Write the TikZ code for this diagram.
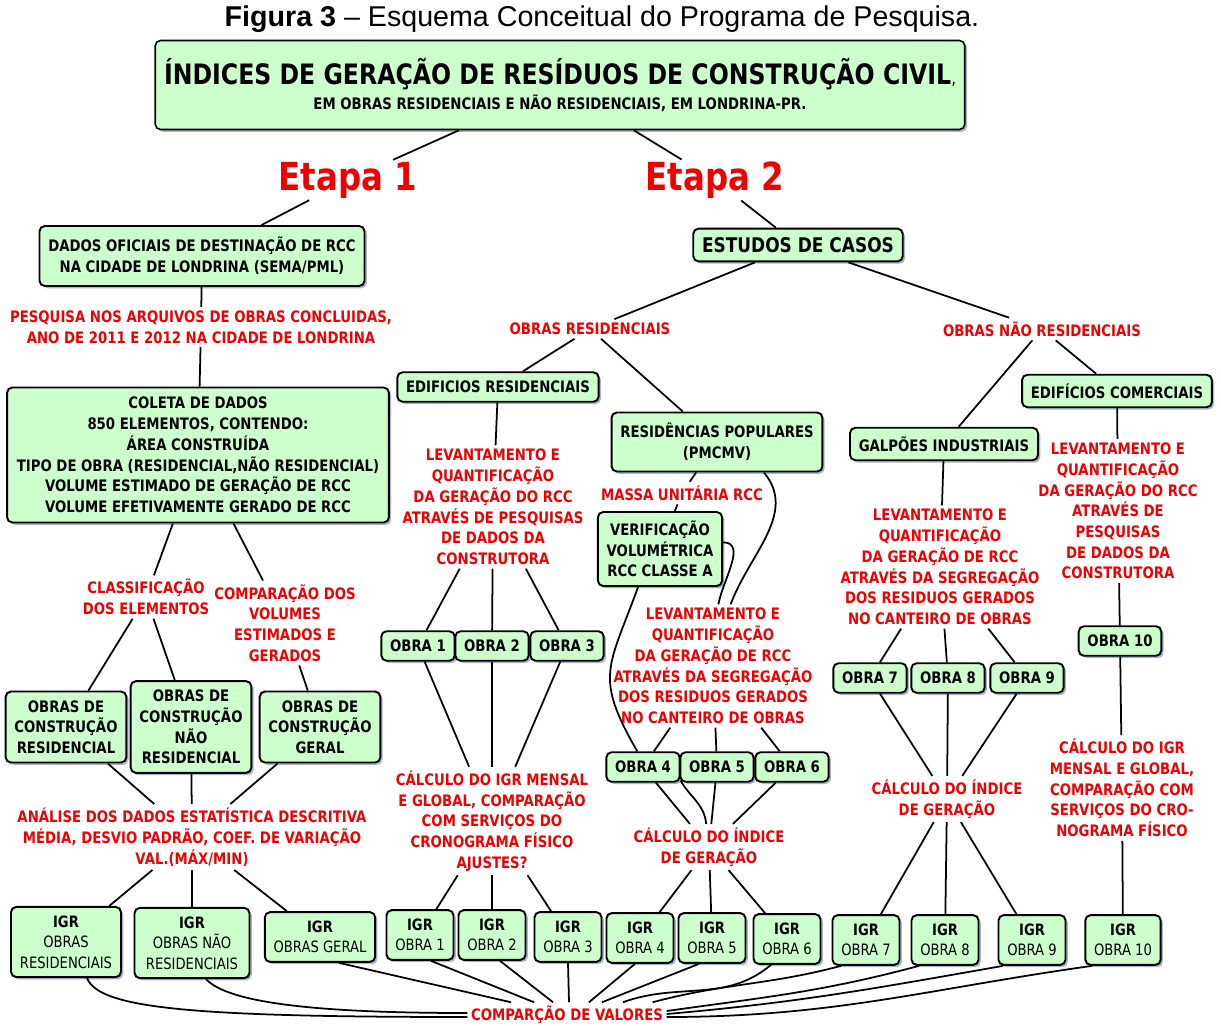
\documentclass[tikz,border=0pt]{standalone}
\usepackage{fontspec}
\setmainfont{Liberation Sans}
\newfontfamily\tahoma{DejaVu Sans}[FakeStretch=0.84]
\usetikzlibrary{shadows,calc}
\definecolor{verdecaixa}{RGB}{204,255,204}
\definecolor{vermelho}{RGB}{240,0,0}
\definecolor{sombra}{RGB}{110,130,190}

\begin{document}
\begin{tikzpicture}[x=0.02cm,y=-0.02cm,
  caixa/.style={draw, line width=1.1pt, rounded corners=3pt, fill=verdecaixa,
    align=center, inner xsep=5pt, inner ysep=5pt,
    font=\tahoma\bfseries\fontsize{9}{11.8}\selectfont,
    drop shadow={shadow xshift=1.3pt, shadow yshift=-1.3pt, fill=sombra, opacity=0.6}},
  igr/.style={caixa, font=\tahoma\fontsize{8.9}{11.6}\selectfont},
  rotulo/.style={text=vermelho, align=center, inner sep=2pt,
    font=\tahoma\bfseries\fontsize{9}{11.8}\selectfont},
  etapa/.style={text=vermelho, inner sep=1pt,
    font=\tahoma\bfseries\fontsize{22}{24}\selectfont},
  liga/.style={line width=1pt}]
  \useasboundingbox (0,0) rectangle (1221,1025);

  \node[font=\fontsize{16.3}{19}\selectfont] (titulo) at (602,19) {\textbf{Figura 3} – Esquema Conceitual do Programa de Pesquisa.};
  \node[caixa, line width=0.9pt, minimum width=16.1cm, minimum height=1.78cm, font=\tahoma\bfseries\fontsize{9}{13.7}\selectfont] (indices) at (560,85)
    {{\fontsize{16}{20}\selectfont ÍNDICES DE GERAÇÃO DE RESÍDUOS DE CONSTRUÇÃO CIVIL{\mdseries\fontsize{10}{12}\selectfont,}}\\EM OBRAS RESIDENCIAIS E NÃO RESIDENCIAIS, EM LONDRINA-PR.};
  \node[etapa] (etapa1) at (348,180) {Etapa 1};
  \node[etapa] (etapa2) at (715,180) {Etapa 2};

  \node[caixa, minimum width=6.46cm, minimum height=1.2cm] (dados) at (202,256) {DADOS OFICIAIS DE DESTINAÇÃO DE RCC\\NA CIDADE DE LONDRINA (SEMA/PML)};
  \node[rotulo] (pesquisa) at (201,327) {PESQUISA NOS ARQUIVOS DE OBRAS CONCLUIDAS,\\ANO DE 2011 E 2012 NA CIDADE DE LONDRINA};
  \node[caixa, minimum width=7.64cm, minimum height=2.7cm] (coleta) at (198,455) {COLETA DE DADOS\\850 ELEMENTOS, CONTENDO:\\ÁREA CONSTRUÍDA\\TIPO DE OBRA (RESIDENCIAL,NÃO RESIDENCIAL)\\VOLUME ESTIMADO DE GERAÇÃO DE RCC\\VOLUME EFETIVAMENTE GERADO DE RCC};
  \node[rotulo] (classif) at (146,597) {CLASSIFICAÇÃO\\DOS ELEMENTOS};
  \node[rotulo] (compvol) at (285,623) {COMPARAÇÃO DOS\\VOLUMES\\ESTIMADOS E\\GERADOS};
  \node[caixa] (obrasres) at (66,727) {OBRAS DE\\CONSTRUÇÃO\\RESIDENCIAL};
  \node[caixa] (obrasnres) at (191,727) {OBRAS DE\\CONSTRUÇÃO\\NÃO\\RESIDENCIAL};
  \node[caixa] (obrasger) at (320,727) {OBRAS DE\\CONSTRUÇÃO\\GERAL};
  \node[rotulo] (analise) at (192,837) {ANÁLISE DOS DADOS ESTATÍSTICA DESCRITIVA\\MÉDIA, DESVIO PADRÃO, COEF. DE VARIAÇÃO\\VAL.(MÁX/MIN)};
  \node[igr, minimum width=2.2cm] (igrres) at (66,942) {\textbf{IGR}\\OBRAS\\RESIDENCIAIS};
  \node[igr, minimum width=2.3cm] (igrnres) at (192,943) {\textbf{IGR}\\OBRAS NÃO\\RESIDENCIAIS};
  \node[igr] (igrger) at (320,937) {\textbf{IGR}\\OBRAS GERAL};

  \node[caixa, font=\tahoma\bfseries\fontsize{11.5}{14}\selectfont] (estudos) at (798,245) {ESTUDOS DE CASOS};
  \node[rotulo] (resid) at (590,329) {OBRAS RESIDENCIAIS};
  \node[rotulo] (naoresid) at (1042,329) {OBRAS NÃO RESIDENCIAIS};
  \node[caixa] (edres) at (498,387) {EDIFICIOS RESIDENCIAIS};
  \node[caixa, minimum width=4.1cm, minimum height=1.18cm] (popular) at (717,442) {RESIDÊNCIAS POPULARES\\(PMCMV)};
  \node[rotulo] (levA) at (493,507) {LEVANTAMENTO E\\QUANTIFICAÇÃO\\DA GERAÇÃO DO RCC\\ATRAVÉS DE PESQUISAS\\DE DADOS DA\\CONSTRUTORA};
  \node[caixa] (obra1) at (418,646) {OBRA 1};
  \node[caixa] (obra2) at (492,646) {OBRA 2};
  \node[caixa] (obra3) at (567,646) {OBRA 3};
  \node[rotulo] (calcA) at (492,821) {CÁLCULO DO IGR MENSAL\\E GLOBAL, COMPARAÇÃO\\COM SERVIÇOS DO\\CRONOGRAMA FÍSICO\\AJUSTES?};
  \node[rotulo] (massa) at (682,493) {MASSA UNITÁRIA RCC};
  \node[caixa] (verif) at (660,549) {VERIFICAÇÃO\\VOLUMÉTRICA\\RCC CLASSE A};
  \node[rotulo] (levB) at (713,666) {LEVANTAMENTO E\\QUANTIFICAÇÃO\\DA GERAÇÃO DE RCC\\ATRAVÉS DA SEGREGAÇÃO\\DOS RESIDUOS GERADOS\\NO CANTEIRO DE OBRAS};
  \node[caixa] (obra4) at (643,767) {OBRA 4};
  \node[caixa] (obra5) at (717,767) {OBRA 5};
  \node[caixa] (obra6) at (792,767) {OBRA 6};
  \node[rotulo] (calcB) at (709,847) {CÁLCULO DO ÍNDICE\\DE GERAÇÃO};

  \node[caixa] (galpoes) at (944,444) {GALPÕES INDUSTRIAIS};
  \node[caixa] (edcom) at (1117,391) {EDIFÍCIOS COMERCIAIS};
  \node[rotulo] (levC) at (940,567) {LEVANTAMENTO E\\QUANTIFICAÇÃO\\DA GERAÇÃO DE RCC\\ATRAVÉS DA SEGREGAÇÃO\\DOS RESIDUOS GERADOS\\NO CANTEIRO DE OBRAS};
  \node[caixa] (obra7) at (870,678) {OBRA 7};
  \node[caixa] (obra8) at (948,678) {OBRA 8};
  \node[caixa] (obra9) at (1027,678) {OBRA 9};
  \node[rotulo] (calcC) at (947,799) {CÁLCULO DO ÍNDICE\\DE GERAÇÃO};
  \node[rotulo] (levD) at (1118,511) {LEVANTAMENTO E\\QUANTIFICAÇÃO\\DA GERAÇÃO DO RCC\\ATRAVÉS DE\\PESQUISAS\\DE DADOS DA\\CONSTRUTORA};
  \node[caixa] (obra10) at (1120,641) {OBRA 10};
  \node[rotulo] (calcD) at (1122,788) {CÁLCULO DO IGR\\MENSAL E GLOBAL,\\COMPARAÇÃO COM\\SERVIÇOS DO CRO-\\NOGRAMA FÍSICO};

  \node[igr] (igr1) at (420,935) {\textbf{IGR}\\OBRA 1};
  \node[igr] (igr2) at (492,935) {\textbf{IGR}\\OBRA 2};
  \node[igr] (igr3) at (568,937) {\textbf{IGR}\\OBRA 3};
  \node[igr] (igr4) at (640,938) {\textbf{IGR}\\OBRA 4};
  \node[igr] (igr5) at (712,938) {\textbf{IGR}\\OBRA 5};
  \node[igr] (igr6) at (787,939) {\textbf{IGR}\\OBRA 6};
  \node[igr] (igr7) at (866,940) {\textbf{IGR}\\OBRA 7};
  \node[igr] (igr8) at (945,940) {\textbf{IGR}\\OBRA 8};
  \node[igr] (igr9) at (1032,940) {\textbf{IGR}\\OBRA 9};
  \node[igr] (igr10) at (1123,940) {\textbf{IGR}\\OBRA 10};
  \node[rotulo] (comp) at (567,1015) {COMPARÇÃO DE VALORES};

  \draw[liga] (indices) -- (etapa1);
  \draw[liga] (indices) -- (etapa2);
  \draw[liga] (etapa1) -- (dados);
  \draw[liga] (etapa2) -- (estudos);

  \draw[liga] (dados) -- (pesquisa);
  \draw[liga] (pesquisa) -- (coleta);
  \draw[liga] (coleta) -- (classif);
  \draw[liga] (coleta) -- (compvol);
  \draw[liga] (classif) -- (obrasres);
  \draw[liga] (classif) -- (obrasnres);
  \draw[liga] (compvol) -- (obrasger);
  \draw[liga] (obrasres) -- (analise);
  \draw[liga] (obrasnres) -- (analise);
  \draw[liga] (obrasger) -- (analise);
  \draw[liga] (analise) -- (igrres);
  \draw[liga] (analise) -- (igrnres);
  \draw[liga] (analise) -- (igrger);

  \draw[liga] (estudos) -- (resid);
  \draw[liga] (estudos) -- (naoresid);
  \draw[liga] (resid) -- (edres);
  \draw[liga] (resid) -- (popular);
  \draw[liga] (edres) -- (levA);
  \draw[liga] (levA) -- (obra1);
  \draw[liga] (levA) -- (obra2);
  \draw[liga] (levA) -- (obra3);
  \draw[liga] (obra1) -- (calcA);
  \draw[liga] (obra2) -- (calcA);
  \draw[liga] (obra3) -- (calcA);
  \draw[liga] (calcA) -- (igr1);
  \draw[liga] (calcA) -- (igr2);
  \draw[liga] (calcA) -- (igr3);

  \draw[liga] (popular) -- (massa);
  \draw[liga] (massa) -- (verif);
  \draw[liga] (popular.-33) to[out=-50,in=70] (levB.74);
  \draw[liga] (verif.6) to[out=0,in=80] (levB.85);
  \draw[liga] (verif.-120) to[out=-110,in=120,looseness=1.35] (obra4.110);
  \draw[liga] (levB) -- (obra4);
  \draw[liga] (levB) -- (obra5);
  \draw[liga] (levB) -- (obra6);
  \draw[liga] (obra4) -- (calcB);
  \draw[liga] (obra4.-20) to[out=-60,in=95] (calcB.97);
  \draw[liga] (obra5) -- (calcB);
  \draw[liga] (obra6) -- (calcB);
  \draw[liga] (calcB) -- (igr4);
  \draw[liga] (calcB) -- (igr5);
  \draw[liga] (calcB) -- (igr6);

  \draw[liga] (naoresid) -- (galpoes);
  \draw[liga] (naoresid) -- (edcom);
  \draw[liga] (galpoes) -- (levC);
  \draw[liga] (levC) -- (obra7);
  \draw[liga] (levC) -- (obra8);
  \draw[liga] (levC) -- (obra9);
  \draw[liga] (obra7) -- (calcC);
  \draw[liga] (obra8) -- (calcC);
  \draw[liga] (obra9) -- (calcC);
  \draw[liga] (calcC) -- (igr7);
  \draw[liga] (calcC) -- (igr8);
  \draw[liga] (calcC) -- (igr9);
  \draw[liga] (edcom) -- (levD);
  \draw[liga] (levD) -- (obra10);
  \draw[liga] (obra10) -- (calcD);
  \draw[liga] (calcD) -- (igr10);

  \draw[liga] ($(igrres.south)+(21,0)$) .. controls +(12,30) and +(-280,0) .. ($(comp.west)+(0,2)$);
  \draw[liga] ($(igrnres.south)+(14,0)$) .. controls +(22,24) and +(-150,0) .. ($(comp.west)+(0,-2)$);
  \draw[liga] ($(igrger.south)+(19,0)$) -- ($(comp.north)+(-56,0)$);
  \draw[liga] ($(igr1.south)+(11,0)$) -- ($(comp.north)+(-33,0)$);
  \draw[liga] ($(igr2.south)+(8,0)$) -- ($(comp.north)+(-14,0)$);
  \draw[liga] (igr3.south) -- ($(comp.north)+(2,0)$);
  \draw[liga] ($(igr4.south)+(-5,0)$) -- ($(comp.north)+(22,0)$);
  \draw[liga] ($(igr5.south)+(-13,0)$) -- ($(comp.north)+(35,0)$);
  \draw[liga] ($(igr6.south)+(-16,0)$) to[out=-140,in=20] ($(comp.north)+(56,0)$);
  \draw[liga] ($(igr7.south)+(-25,0)$) to[out=-165,in=15] ($(comp.north east)+(-14,0)$);
  \draw[liga] ($(igr8.south)+(-26,0)$) to[out=-165,in=8] ($(comp.east)+(0,-4)$);
  \draw[liga] ($(igr9.south)+(-29,0)$) to[out=-170,in=5] ($(comp.east)+(0,-1)$);
  \draw[liga] ($(igr10.south)+(-31,0)$) to[out=-172,in=0] ($(comp.east)+(0,2)$);
\end{tikzpicture}
\end{document}
